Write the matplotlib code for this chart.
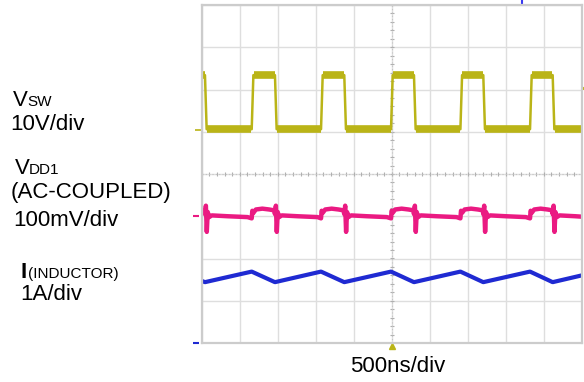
import matplotlib.pyplot as plt
import numpy as np

plt.rcParams['font.family'] = ['Liberation Sans', 'DejaVu Sans']

W, H = 584, 382

# scope timebase: 10 divisions of 500 ns
time_div_ns = 500
n_xdiv, n_ydiv = 10, 8

# switch node (CH1, 10 V/div)
sw_fall_ns = [43, 964, 1876, 2793, 3705, 4618]
sw_rise_ns = [658, 1570, 2491, 3404, 4320]
sw_low_v = 0.2
sw_high_v = 13.0
sw_edge_ns = 22
sw_scale, sw_offset = 10.0, 1.04

# VDD1 ripple (CH2, AC-coupled, 100 mV/div), shape after each edge
vdd_fall_ns = [0, 12, 24, 36, 55, 90, 300, 560]
vdd_fall_mv = [4, 24, -38, 9, -3, 1, -1, -3]
vdd_rise_ns = [0, 8, 22, 55, 140, 230, 295]
vdd_rise_mv = [-6, 12, 7, 15, 17, 15, 13]
vdd_scale, vdd_offset = 100.0, -0.99

# inductor current (CH3, 1 A/div)
il_peak_a = 1.69
il_valley_a = 1.44
il_start_a = 1.47
il_end_a = 1.60
il_scale, il_offset = 1.0, -4.0

yellow = '#bab417'
pink = '#ea1a82'
blue = '#1f2ad2'

t_end = n_xdiv * time_div_ns

# build the switch node trace
edges = sorted([(t, 'f') for t in sw_fall_ns] + [(t, 'r') for t in sw_rise_ns])
sw_t, sw_v = [0], [sw_high_v]
for t, kind in edges:
    a, b = (sw_high_v, sw_low_v) if kind == 'f' else (sw_low_v, sw_high_v)
    sw_t += [t, t + sw_edge_ns]
    sw_v += [a, b]
sw_t.append(t_end)
sw_v.append(sw_v[-1])
sw_t, sw_v = np.array(sw_t), np.array(sw_v)

# VDD1 trace from the per-edge shapes
vdd_t, vdd_v = [0], [14]
for t, kind in edges:
    offs, vals = (vdd_fall_ns, vdd_fall_mv) if kind == 'f' else (vdd_rise_ns, vdd_rise_mv)
    for o, v in zip(offs, vals):
        if t + o <= t_end:
            vdd_t.append(t + o)
            vdd_v.append(v)
vdd_t.append(t_end)
vdd_v.append(-2)
vdd_t, vdd_v = np.array(vdd_t), np.array(vdd_v)

# inductor current: valleys at falling edges, peaks at rising edges
il_t = [0] + [t for t, _ in edges] + [t_end]
il_v = [il_start_a] + [il_valley_a if k == 'f' else il_peak_a for _, k in edges] + [il_end_a]

fig = plt.figure(figsize=(W / 100, H / 100), dpi=100)
ax = fig.add_axes([201.7 / W, 1 - 343 / H, 380 / W, 338 / H])
ax.set_xlim(0, t_end)
ax.set_ylim(-n_ydiv / 2, n_ydiv / 2)

# graticule
ax.set_xticks(np.arange(0, t_end + 1, time_div_ns))
ax.set_yticks(np.arange(-4, 5, 1))
ax.grid(True, color='#dedede', lw=1.0)
ax.tick_params(length=0, labelbottom=False, labelleft=False)
for s in ax.spines.values():
    s.set_color('#cccccc')
    s.set_linewidth(1.6)

# center crosshair minor ticks
mx = np.arange(0, t_end + 1, time_div_ns / 5)
my = np.arange(-4, 4.01, 0.2)
ax.plot(mx, np.zeros_like(mx), ls='none', marker='|', ms=3, mew=0.8, color='#b0b0b0')
ax.plot(np.full_like(my, t_end / 2), my, ls='none', marker='_', ms=3, mew=0.8, color='#b0b0b0')
ax.axvline(t_end / 2, color='#c4c4c4', lw=0.8, ls=(0, (1, 2)))
ax.axhline(0, color='#c4c4c4', lw=0.8, ls=(0, (1, 2)))

# traces
ax.plot(sw_t, sw_v / sw_scale + sw_offset, color=yellow, lw=1.8)
flat = np.diff(sw_t) > sw_edge_ns
ax.hlines((sw_v[:-1] / sw_scale + sw_offset)[flat], sw_t[:-1][flat] + 4, sw_t[1:][flat] - 4,
          color=yellow, lw=5.5)
ax.plot(vdd_t, vdd_v / vdd_scale + vdd_offset, color=pink, lw=3.2, solid_joinstyle='round')
ax.plot(il_t, np.array(il_v) / il_scale + il_offset, color=blue, lw=3.0)

# channel ground markers and trigger markers
ax.plot([-45], [sw_offset], marker='_', ms=5, mew=1.2, color=yellow, clip_on=False)
ax.plot([-75], [vdd_offset], marker='_', ms=5, mew=1.5, color=pink, clip_on=False)
ax.plot([-75], [il_offset], marker='_', ms=5, mew=1.5, color=blue, clip_on=False)
ax.plot([t_end / 2], [-4.07], marker='^', ms=4, color=yellow, clip_on=False)
ax.plot([t_end + 25], [10 / sw_scale + sw_offset], marker='<', ms=3.5, color=yellow, clip_on=False)
ax.plot([4214], [4.08], marker='|', ms=4, mew=1.5, color='#3a3af0', clip_on=False)


def label(x, y, s, size=16, **kw):
    fig.text(x / W, 1 - y / H, s, fontsize=size, va='baseline', ha='left', **kw)


label(13, 106, 'V')
label(27, 106, 'SW', size=11)
label(10, 130, '10V/div')
label(15, 174, 'V')
label(29, 174, 'DD1', size=11)
label(11, 198, '(AC-COUPLED)')
label(13, 226, '100mV/div')
label(20, 278, 'I', fontweight='bold')
label(28, 278, '(INDUCTOR)', size=11)
label(20, 300, '1A/div')
fig.text(398 / W, 1 - 371.7 / H, '500ns/div', fontsize=16, va='baseline', ha='center')

fig.savefig('out.png', dpi=100)
